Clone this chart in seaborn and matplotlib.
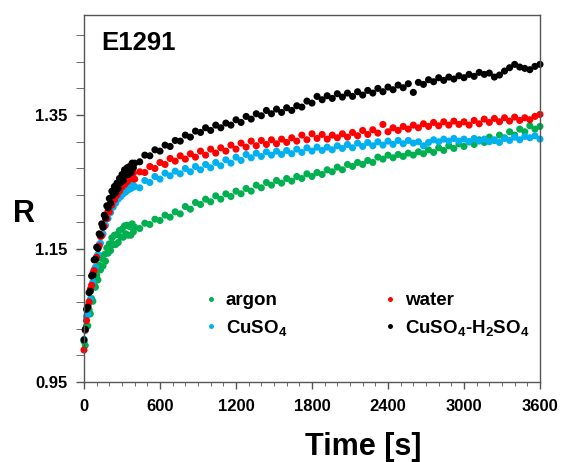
import numpy as np
import pandas as pd
import matplotlib
matplotlib.use("Agg")
import matplotlib.pyplot as plt
from matplotlib.ticker import FixedLocator, MultipleLocator
import seaborn as sns

# ---------------- data ----------------
TIME = np.concatenate([np.arange(0, 400, 10), np.arange(400, 3601, 40)])

ARGON = [1.011, 1.005, 1.034, 1.034, 1.058, 1.052, 1.075, 1.071, 1.096, 1.092, 1.110, 1.103, 1.125, 1.118, 1.135, 1.124, 1.141, 1.131, 1.151, 1.143,
         1.157, 1.147, 1.166, 1.156, 1.170, 1.156, 1.171, 1.159, 1.177, 1.167, 1.179, 1.167, 1.184, 1.172, 1.185, 1.170, 1.183, 1.170, 1.187, 1.175,
         1.182, 1.180, 1.188, 1.186, 1.194, 1.192, 1.200, 1.197, 1.205, 1.202, 1.213, 1.209, 1.219, 1.216, 1.224, 1.220, 1.229, 1.224,
         1.232, 1.228, 1.236, 1.232, 1.240, 1.236, 1.245, 1.241, 1.249, 1.245, 1.252, 1.248, 1.255, 1.251, 1.258, 1.255, 1.262, 1.258, 1.264, 1.261,
         1.268, 1.265, 1.272, 1.268, 1.276, 1.273, 1.279, 1.276, 1.282, 1.279, 1.287, 1.284, 1.290, 1.286, 1.291, 1.288, 1.293, 1.290, 1.295, 1.292,
         1.298, 1.294, 1.301, 1.297, 1.304, 1.300, 1.307, 1.303, 1.310, 1.306, 1.313, 1.309, 1.317, 1.312, 1.320, 1.316, 1.325, 1.320, 1.329, 1.325,
         1.334, 1.329, 1.333]

WATER = [0.998, 1.028, 1.042, 1.063, 1.070, 1.089, 1.095, 1.113, 1.117, 1.133, 1.137, 1.152, 1.154, 1.168, 1.169, 1.182, 1.183, 1.195, 1.195, 1.206,
         1.205, 1.216, 1.215, 1.225, 1.223, 1.233, 1.230, 1.239, 1.236, 1.245, 1.242, 1.250, 1.246, 1.254, 1.250, 1.258, 1.254, 1.261, 1.256, 1.263,
         1.254, 1.265, 1.264, 1.273, 1.270, 1.279, 1.276, 1.285, 1.281, 1.289, 1.284, 1.292, 1.287, 1.296, 1.290, 1.299, 1.293, 1.301,
         1.296, 1.305, 1.299, 1.308, 1.302, 1.311, 1.304, 1.312, 1.306, 1.313, 1.307, 1.314, 1.309, 1.316, 1.311, 1.320, 1.313, 1.322, 1.315, 1.321,
         1.314, 1.320, 1.316, 1.322, 1.317, 1.324, 1.319, 1.327, 1.321, 1.328, 1.323, 1.336, 1.325, 1.331, 1.327, 1.333, 1.329, 1.335, 1.331, 1.337,
         1.333, 1.339, 1.334, 1.340, 1.335, 1.341, 1.336, 1.340, 1.335, 1.342, 1.337, 1.344, 1.339, 1.345, 1.340, 1.346, 1.341, 1.347, 1.342, 1.346,
         1.343, 1.348, 1.351]

CUSO4 = [1.014, 1.027, 1.048, 1.052, 1.068, 1.074, 1.093, 1.100, 1.118, 1.122, 1.138, 1.141, 1.156, 1.158, 1.171, 1.172, 1.185, 1.185, 1.196, 1.195,
         1.206, 1.204, 1.214, 1.212, 1.221, 1.218, 1.227, 1.224, 1.232, 1.228, 1.236, 1.232, 1.240, 1.235, 1.243, 1.238, 1.245, 1.240, 1.247, 1.242,
         1.243, 1.241, 1.252, 1.249, 1.258, 1.254, 1.263, 1.259, 1.266, 1.262, 1.270, 1.265, 1.273, 1.268, 1.276, 1.271, 1.279, 1.274,
         1.283, 1.278, 1.287, 1.282, 1.291, 1.286, 1.293, 1.288, 1.295, 1.290, 1.296, 1.291, 1.297, 1.292, 1.299, 1.294, 1.301, 1.296, 1.302, 1.297,
         1.302, 1.298, 1.304, 1.300, 1.306, 1.301, 1.308, 1.303, 1.309, 1.304, 1.310, 1.305, 1.311, 1.306, 1.312, 1.307, 1.312, 1.308, 1.310, 1.304,
         1.309, 1.313, 1.310, 1.314, 1.311, 1.315, 1.311, 1.314, 1.310, 1.315, 1.311, 1.314, 1.310, 1.313, 1.309, 1.315, 1.312, 1.317, 1.313, 1.318,
         1.316, 1.319, 1.314]

CUSO4_H2SO4 = [1.013, 1.029, 1.059, 1.062, 1.084, 1.086, 1.109, 1.110, 1.133, 1.134, 1.152, 1.150, 1.172, 1.170, 1.187, 1.182, 1.200, 1.196, 1.214, 1.211,
               1.225, 1.218, 1.236, 1.230, 1.243, 1.234, 1.248, 1.240, 1.255, 1.249, 1.261, 1.252, 1.268, 1.260, 1.271, 1.261, 1.273, 1.264, 1.278, 1.271,
               1.278, 1.280, 1.290, 1.289, 1.298, 1.296, 1.305, 1.303, 1.312, 1.311, 1.320, 1.317, 1.326, 1.324, 1.331, 1.327, 1.335, 1.331, 1.338, 1.335,
               1.343, 1.339, 1.348, 1.344, 1.352, 1.349, 1.357, 1.352, 1.359, 1.354, 1.361, 1.357, 1.364, 1.362, 1.371, 1.368, 1.378, 1.373, 1.379, 1.375,
               1.382, 1.377, 1.383, 1.378, 1.385, 1.380, 1.387, 1.383, 1.390, 1.385, 1.392, 1.388, 1.395, 1.391, 1.397, 1.384, 1.399, 1.396, 1.403, 1.400,
               1.406, 1.402, 1.407, 1.404, 1.409, 1.406, 1.411, 1.408, 1.414, 1.411, 1.413, 1.407, 1.410, 1.416, 1.421, 1.426, 1.422, 1.420, 1.418, 1.423,
               1.426]

SERIES = ["argon", "CuSO$_4$", "water", "CuSO$_4$-H$_2$SO$_4$"]
COLORS = ["#00B050", "#00B0F0", "#FF0000", "#000000"]
X_TICKS = [0, 600, 1200, 1800, 2400, 3000, 3600]
Y_TICKS = [0.95, 1.15, 1.35]

# ---------------- style ----------------
sns.set_style("ticks")
plt.rcParams["font.family"] = ["Liberation Sans", "DejaVu Sans"]
plt.rcParams["font.weight"] = "bold"
plt.rcParams["text.color"] = "black"
plt.rcParams["xtick.labelcolor"] = "black"
plt.rcParams["ytick.labelcolor"] = "black"
plt.rcParams["mathtext.fontset"] = "custom"
plt.rcParams["mathtext.rm"] = "Liberation Sans:bold"
plt.rcParams["mathtext.it"] = "Liberation Sans:bold"
plt.rcParams["mathtext.bf"] = "Liberation Sans:bold"
plt.rcParams["mathtext.default"] = "rm"

df = pd.concat([
    pd.DataFrame({"Time": TIME, "R": vals, "series": name})
    for name, vals in zip(SERIES, [ARGON, CUSO4, WATER, CUSO4_H2SO4])
], ignore_index=True)

fig = plt.figure(figsize=(5.62, 4.62), dpi=100)
ax = fig.add_axes([84 / 562, 80 / 462, 456 / 562, 367 / 462])

draw_order = ["argon", "CuSO$_4$", "water", "CuSO$_4$-H$_2$SO$_4$"]
pal = dict(zip(SERIES, COLORS))
sns.scatterplot(data=df, x="Time", y="R", hue="series", hue_order=draw_order,
                palette=pal, s=26, linewidth=0, ax=ax, legend=True, clip_on=False)

ax.set_xlim(0, 3600)
ax.set_ylim(0.95, 1.50)
ax.xaxis.set_major_locator(FixedLocator(X_TICKS))
ax.xaxis.set_minor_locator(MultipleLocator(100))
ax.yaxis.set_major_locator(FixedLocator(Y_TICKS))
ax.yaxis.set_minor_locator(FixedLocator(np.arange(0.95, 1.50, 0.04)))
ax.set_yticklabels([f"{v:.2f}" for v in Y_TICKS])
ax.set_xticklabels([str(v) for v in X_TICKS])
ax.tick_params(axis="both", which="major", labelsize=12, color="#555555", width=1, labelcolor="black")
ax.tick_params(axis="y", which="both", length=6, pad=6, color="#555555")
ax.tick_params(axis="x", which="major", length=5, pad=7)
ax.tick_params(axis="x", which="minor", length=3, color="#555555")
for lab in ax.get_xticklabels() + ax.get_yticklabels():
    lab.set_fontweight("bold")
for sp in ax.spines.values():
    sp.set_visible(True)
    sp.set_color("#555555")
    sp.set_linewidth(1.0)
ax.set_xlabel("")
ax.set_ylabel("")

fig.text(101 / 562, 1 - 50 / 462, "E1291", fontsize=18.5, fontweight="bold", va="baseline", ha="left", color="black")
fig.text(24 / 562, 1 - 222 / 462, "R", fontsize=22, fontweight="bold", va="baseline", ha="center", color="black")
fig.text(363 / 562, 1 - 455 / 462, "Time [s]", fontsize=22, fontweight="bold", va="baseline", ha="center", color="black")

handles, labels = ax.get_legend_handles_labels()
order = [labels.index(l) for l in SERIES]
leg = ax.legend([handles[i] for i in order], [labels[i] for i in order], ncol=2,
                loc="upper left", bbox_to_anchor=(205 / 562, 1 - 292 / 462),
                bbox_transform=fig.transFigure, frameon=False,
                prop={"weight": "bold", "size": 13.5}, markerscale=0.7,
                handlelength=0.6, handletextpad=0.5, columnspacing=5.2,
                labelspacing=0.45, borderpad=0, borderaxespad=0, labelcolor="black")

fig.savefig("out.png", dpi=100)
